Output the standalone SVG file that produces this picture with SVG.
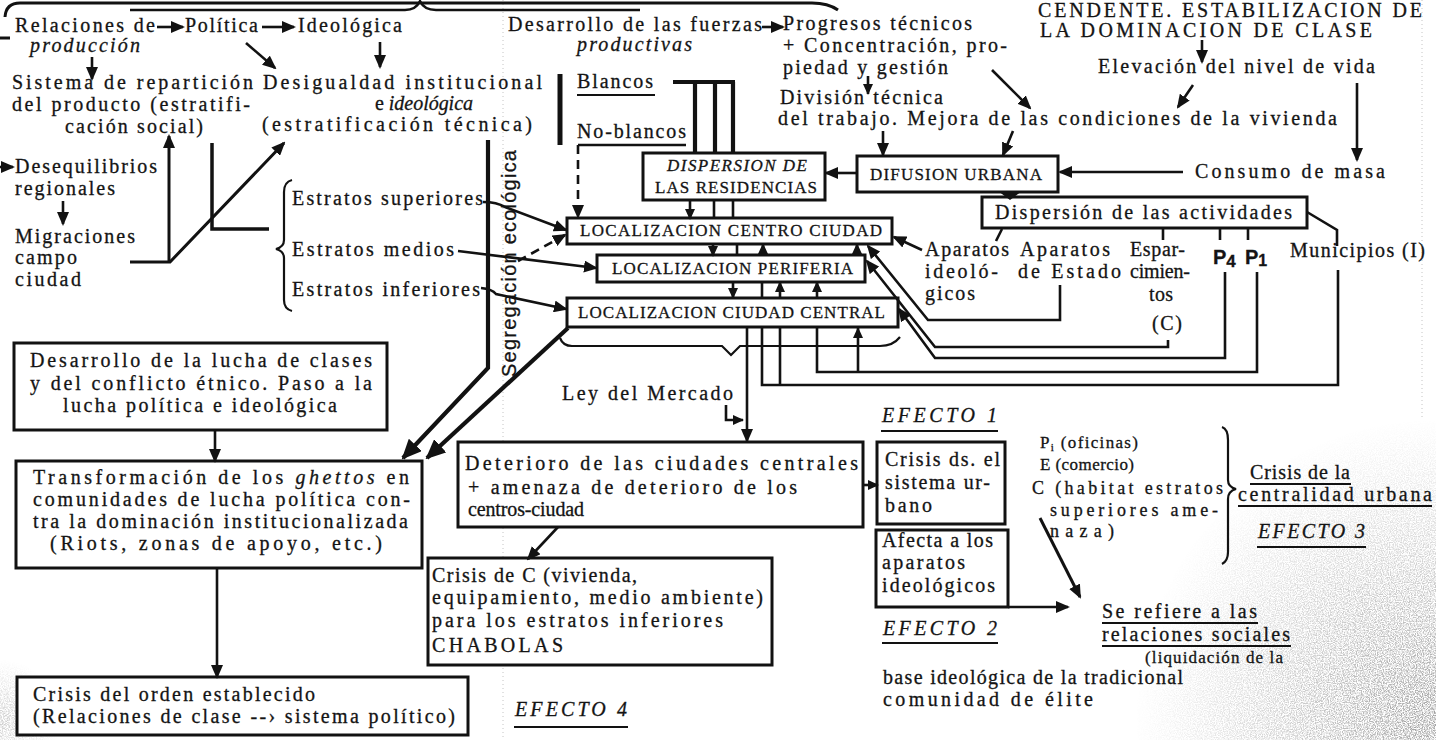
<svg xmlns="http://www.w3.org/2000/svg" width="1436" height="740" viewBox="0 0 1436 740">
<defs>
<style>
 .t{font-family:"Liberation Serif","Times New Roman",serif;font-size:20px;fill:#141414;stroke:#141414;stroke-width:0.3}
 .i{font-style:italic}
 .c{font-size:17px}
 .m{font-size:18px}
 .n{font-size:17px}
 .s{font-family:"Liberation Sans",Arial,sans-serif}
 .ln{fill:none;stroke:#121212;stroke-width:2.6}
 .tk{stroke-width:4.2}
 .bx{fill:#fff;stroke:#121212;stroke-width:3}
 .ul{stroke:#121212;stroke-width:2}
 .a{marker-end:url(#ah)}
 .aL{marker-end:url(#ahL)}
 .aS{marker-end:url(#ahS)}
 .dsh{stroke-dasharray:9 6}
 .fold{stroke:#c4c4c4;stroke-width:1;stroke-dasharray:1 3}
</style>
<marker id="ah" viewBox="0 0 14 12" markerWidth="14" markerHeight="12" refX="12" refY="6" orient="auto" markerUnits="userSpaceOnUse"><path d="M0,0 L14,6 L0,12 z" fill="#121212"/></marker>
<marker id="ahL" viewBox="0 0 20 18" markerWidth="20" markerHeight="18" refX="18" refY="9" orient="auto" markerUnits="userSpaceOnUse"><path d="M0,0 L20,9 L0,18 z" fill="#121212"/></marker>
<marker id="ahS" viewBox="0 0 11 10" markerWidth="11" markerHeight="10" refX="10" refY="5" orient="auto" markerUnits="userSpaceOnUse"><path d="M0,0 L11,5 L0,10 z" fill="#121212"/></marker>
<radialGradient id="hz" cx="1436" cy="720" r="300" gradientUnits="userSpaceOnUse">
 <stop offset="0" stop-color="#666" stop-opacity="0.9"/>
 <stop offset="0.5" stop-color="#888" stop-opacity="0.45"/>
 <stop offset="1" stop-color="#aaa" stop-opacity="0"/>
</radialGradient>
<radialGradient id="hz2" cx="0" cy="720" r="60" gradientUnits="userSpaceOnUse">
 <stop offset="0" stop-color="#777" stop-opacity="0.5"/>
 <stop offset="1" stop-color="#aaa" stop-opacity="0"/>
</radialGradient>
<filter id="grain">
 <feTurbulence type="fractalNoise" baseFrequency="0.85" numOctaves="2" seed="7" result="n"/>
 <feColorMatrix in="n" type="matrix" values="0 0 0 0 0.3  0 0 0 0 0.3  0 0 0 0 0.3  0 0 0 3 -1.1" result="d"/>
 <feComposite in="d" in2="SourceGraphic" operator="in"/>
</filter>
</defs>

<rect width="1436" height="740" fill="#fff"/>

<!-- paper texture: fold lines and worn corners -->
<g id="paper">
 <line class="fold" x1="503" y1="0" x2="503" y2="740"/>
 <line class="fold" x1="1422" y1="0" x2="1422" y2="420"/>
 <rect x="1120" y="420" width="316" height="320" fill="url(#hz)" filter="url(#grain)"/>
 <rect x="0" y="660" width="60" height="80" fill="url(#hz2)" filter="url(#grain)"/>
</g>

<!-- braces -->
<g id="braces" class="ln" stroke-width="2.6">
 <path d="M5,17 Q6,3 20,3 H812 Q828,3 838,10" stroke-width="3"/>
 <path d="M130,10 H405 Q416,10 420,1 Q424,10 436,10 H640" stroke-width="2.4"/>
 <path d="M0,38 H10" stroke-width="3"/>
 <path d="M292,180 Q284,182 284,192 V240 Q284,247 276,249 Q284,251 284,258 V300 Q284,309 292,311" stroke-width="2.2"/>
 <path d="M560,338 Q563,346 572,346 H722 L731,355 L740,346 H880 Q893,346 900,337" stroke-width="2.2"/>
 <path d="M1222,427 Q1228,429 1228,440 V480 Q1228,487 1236,489 Q1228,491 1228,499 V552 Q1228,561 1222,564" stroke-width="2.2"/>
</g>

<!-- left column -->
<g id="n-relaciones">
 <text class="t" x="15" y="32" textLength="140" lengthAdjust="spacing">Relaciones de</text>
 <text class="t i" x="30" y="52" textLength="110" lengthAdjust="spacing">producción</text>
</g>
<g id="n-politica"><text class="t" x="185" y="32" textLength="73" lengthAdjust="spacing">Política</text></g>
<g id="n-ideologica"><text class="t" x="298" y="32" textLength="104" lengthAdjust="spacing">Ideológica</text></g>
<g id="n-sistema">
 <text class="t" x="12" y="89" textLength="241" lengthAdjust="spacing">Sistema de repartición</text>
 <text class="t" x="12" y="111" textLength="238" lengthAdjust="spacing">del producto (estratifi-</text>
 <text class="t" x="65" y="133" textLength="138" lengthAdjust="spacing">cación social)</text>
</g>
<g id="n-desigualdad">
 <text class="t" x="263" y="89" textLength="279" lengthAdjust="spacing">Desigualdad institucional</text>
 <text class="t" x="375" y="110" textLength="98" lengthAdjust="spacing">e <tspan class="i">ideológica</tspan></text>
 <text class="t" x="262" y="131" textLength="270" lengthAdjust="spacing">(estratificación técnica)</text>
</g>
<g id="n-desequilibrios">
 <text class="t" x="15" y="173" textLength="142" lengthAdjust="spacing">Desequilibrios</text>
 <text class="t" x="15" y="195" textLength="100" lengthAdjust="spacing">regionales</text>
</g>
<g id="n-migraciones">
 <text class="t" x="15" y="243" textLength="120" lengthAdjust="spacing">Migraciones</text>
 <text class="t" x="15" y="264" textLength="62" lengthAdjust="spacing">campo</text>
 <text class="t" x="15" y="286" textLength="66" lengthAdjust="spacing">ciudad</text>
</g>
<g id="n-estratos">
 <text class="t" x="292" y="205" textLength="191" lengthAdjust="spacing">Estratos superiores</text>
 <text class="t" x="292" y="256" textLength="162" lengthAdjust="spacing">Estratos medios</text>
 <text class="t" x="292" y="296" textLength="188" lengthAdjust="spacing">Estratos inferiores</text>
</g>
<g id="n-segregacion">
 <text class="t s" font-size="18" transform="translate(516,377) rotate(-90)" textLength="227" lengthAdjust="spacing">Segregación ecológica</text>
</g>

<!-- upper middle -->
<g id="n-fuerzas">
 <text class="t" x="508" y="31" textLength="254" lengthAdjust="spacing">Desarrollo de las fuerzas</text>
 <text class="t i" x="577" y="51" textLength="115" lengthAdjust="spacing">productivas</text>
</g>
<g id="n-progresos">
 <text class="t" x="783" y="30" textLength="189" lengthAdjust="spacing">Progresos técnicos</text>
 <text class="t" x="783" y="52" textLength="224" lengthAdjust="spacing">+ Concentración, pro-</text>
 <text class="t" x="783" y="74" textLength="165" lengthAdjust="spacing">piedad y gestión</text>
</g>
<g id="n-division">
 <text class="t" x="780" y="104" textLength="163" lengthAdjust="spacing">División técnica</text>
 <text class="t" x="778" y="125" textLength="559" lengthAdjust="spacing">del trabajo. Mejora de las condiciones de la vivienda</text>
</g>
<g id="n-dominacion">
 <text class="t" font-size="22" x="1038" y="17" textLength="384" lengthAdjust="spacing">CENDENTE. ESTABILIZACION DE</text>
 <text class="t" font-size="22" x="1040" y="37" textLength="332" lengthAdjust="spacing">LA DOMINACION DE CLASE</text>
</g>
<g id="n-elevacion"><text class="t" x="1098" y="73" textLength="277" lengthAdjust="spacing">Elevación del nivel de vida</text></g>
<g id="n-consumo"><text class="t" x="1195" y="178" textLength="190" lengthAdjust="spacing">Consumo de masa</text></g>
<g id="n-blancos">
 <text class="t" x="577" y="88" textLength="76" lengthAdjust="spacing">Blancos</text>
 <line class="ul" x1="577" y1="95" x2="655" y2="95"/>
</g>
<g id="n-noblancos"><text class="t" x="577" y="138" textLength="109" lengthAdjust="spacing">No-blancos</text></g>

<g id="n-dispersion-residencias">
 <rect class="bx" x="643" y="153" width="182" height="47"/>
 <text class="t c i" x="667" y="171" textLength="140" lengthAdjust="spacing">DISPERSION DE</text>
 <text class="t c" x="655" y="193" textLength="162" lengthAdjust="spacing">LAS RESIDENCIAS</text>
</g>
<g id="n-difusion">
 <rect class="bx" x="857" y="156" width="201" height="36"/>
 <text class="t c" x="870" y="180" textLength="172" lengthAdjust="spacing">DIFUSION URBANA</text>
</g>
<g id="n-dispersion-actividades">
 <rect class="bx" x="982" y="197" width="325" height="31"/>
 <text class="t" x="995" y="219" textLength="297" lengthAdjust="spacing">Dispersión de las actividades</text>
</g>
<g id="n-loc-centro">
 <rect class="bx" x="567" y="218" width="325" height="26"/>
 <text class="t c" x="580" y="236" textLength="302" lengthAdjust="spacing">LOCALIZACION CENTRO CIUDAD</text>
</g>
<g id="n-loc-periferia">
 <rect class="bx" x="597" y="255" width="268" height="27"/>
 <text class="t c" x="612" y="274" textLength="241" lengthAdjust="spacing">LOCALIZACION PERIFERIA</text>
</g>
<g id="n-loc-central">
 <rect class="bx" x="567" y="298" width="331" height="29"/>
 <text class="t c" x="578" y="318" textLength="307" lengthAdjust="spacing">LOCALIZACION CIUDAD CENTRAL</text>
</g>

<!-- labels under the activities box -->
<g id="n-aparatos-ideologicos">
 <text class="t" x="925" y="256" textLength="84" lengthAdjust="spacing">Aparatos</text>
 <text class="t" x="925" y="278" textLength="73" lengthAdjust="spacing">ideoló-</text>
 <text class="t" x="925" y="300" textLength="50" lengthAdjust="spacing">gicos</text>
</g>
<g id="n-aparatos-estado">
 <text class="t" x="1020" y="256" textLength="90" lengthAdjust="spacing">Aparatos</text>
 <text class="t" x="1018" y="278" textLength="103" lengthAdjust="spacing">de Estado</text>
</g>
<g id="n-esparcimientos">
 <text class="t" x="1130" y="256" textLength="55" lengthAdjust="spacing">Espar-</text>
 <text class="t" x="1130" y="278" textLength="60" lengthAdjust="spacing">cimien-</text>
 <text class="t" x="1149" y="301" textLength="24" lengthAdjust="spacing">tos</text>
 <text class="t" x="1152" y="330" textLength="30" lengthAdjust="spacing">(C)</text>
</g>
<g id="n-p4"><text class="t s" font-size="21" font-weight="bold" x="1213" y="264">P<tspan dy="3" font-size="17">4</tspan></text></g>
<g id="n-p1"><text class="t s" font-size="21" font-weight="bold" x="1245" y="264">P<tspan dy="2" font-size="16">1</tspan></text></g>
<g id="n-municipios"><text class="t" x="1290" y="257" textLength="135" lengthAdjust="spacing">Municipios (I)</text></g>

<!-- lower left -->
<g id="n-lucha">
 <rect class="bx" x="14" y="343" width="373" height="87"/>
 <text class="t" x="30" y="367" textLength="342" lengthAdjust="spacing">Desarrollo de la lucha de clases</text>
 <text class="t" x="30" y="390" textLength="342" lengthAdjust="spacing">y del conflicto étnico. Paso a la</text>
 <text class="t" x="63" y="412" textLength="274" lengthAdjust="spacing">lucha política e ideológica</text>
</g>
<g id="n-ghettos">
 <rect class="bx" x="16" y="461" width="406" height="107"/>
 <text class="t" x="33" y="484" textLength="376" lengthAdjust="spacing">Transformación de los <tspan class="i">ghettos</tspan> en</text>
 <text class="t" x="33" y="506" textLength="377" lengthAdjust="spacing">comunidades de lucha política con-</text>
 <text class="t" x="33" y="528" textLength="375" lengthAdjust="spacing">tra la dominación institucionalizada</text>
 <text class="t" x="50" y="550" textLength="332" lengthAdjust="spacing">(Riots, zonas de apoyo, etc.)</text>
</g>
<g id="n-crisis-orden">
 <rect class="bx" x="17" y="677" width="451" height="58"/>
 <text class="t" x="33" y="701" textLength="282" lengthAdjust="spacing">Crisis del orden establecido</text>
 <text class="t" x="33" y="723" textLength="422" lengthAdjust="spacing">(Relaciones de clase --› sistema político)</text>
</g>

<!-- lower middle -->
<g id="n-mercado"><text class="t" x="562" y="400" textLength="171" lengthAdjust="spacing">Ley del Mercado</text></g>
<g id="n-deterioro">
 <rect class="bx" x="458" y="442" width="405" height="85"/>
 <text class="t" x="465" y="470" textLength="393" lengthAdjust="spacing">Deterioro de las ciudades centrales</text>
 <text class="t" x="468" y="494" textLength="329" lengthAdjust="spacing">+ amenaza de deterioro de los</text>
 <text class="t" font-size="19" x="468" y="516" textLength="116" lengthAdjust="spacing">centros-ciudad</text>
</g>
<g id="n-crisis-c">
 <rect class="bx" x="428" y="558" width="344" height="107"/>
 <text class="t" x="432" y="582" textLength="205" lengthAdjust="spacing">Crisis de C (vivienda,</text>
 <text class="t" x="432" y="604" textLength="331" lengthAdjust="spacing">equipamiento, medio ambiente)</text>
 <text class="t" x="432" y="627" textLength="291" lengthAdjust="spacing">para los estratos inferiores</text>
 <text class="t" x="432" y="652" textLength="131" lengthAdjust="spacing">CHABOLAS</text>
</g>
<g id="n-efecto4">
 <text class="t i" x="515" y="716" textLength="112" lengthAdjust="spacing">EFECTO 4</text>
 <line class="ul" x1="514" y1="727" x2="628" y2="727"/>
</g>

<!-- lower right -->
<g id="n-efecto1">
 <text class="t i" x="882" y="422" textLength="115" lengthAdjust="spacing">EFECTO 1</text>
 <line class="ul" x1="881" y1="431" x2="998" y2="431"/>
</g>
<g id="n-crisis-urbano">
 <rect class="bx" x="877" y="442" width="128" height="82"/>
 <text class="t" x="885" y="466" textLength="115" lengthAdjust="spacing">Crisis ds. el</text>
 <text class="t" x="885" y="489" textLength="105" lengthAdjust="spacing">sistema ur-</text>
 <text class="t" x="885" y="512" textLength="47" lengthAdjust="spacing">bano</text>
</g>
<g id="n-afecta">
 <rect class="bx" x="876" y="530" width="132" height="77"/>
 <text class="t" x="882" y="547" textLength="111" lengthAdjust="spacing">Afecta a los</text>
 <text class="t" x="882" y="569" textLength="83" lengthAdjust="spacing">aparatos</text>
 <text class="t" x="882" y="592" textLength="113" lengthAdjust="spacing">ideológicos</text>
</g>
<g id="n-efecto2">
 <text class="t i" x="883" y="635" textLength="114" lengthAdjust="spacing">EFECTO 2</text>
 <line class="ul" x1="882" y1="643" x2="998" y2="643"/>
</g>
<g id="n-centralidad-items">
 <text class="t n" x="1040" y="448" textLength="98" lengthAdjust="spacing">P<tspan font-size="11" dy="3">i</tspan><tspan dy="-3"> (oficinas)</tspan></text>
 <text class="t n" x="1040" y="470" textLength="94" lengthAdjust="spacing">E (comercio)</text>
 <text class="t m" x="1032" y="494" textLength="191" lengthAdjust="spacing">C (habitat estratos</text>
 <text class="t m" x="1050" y="516" textLength="168" lengthAdjust="spacing">superiores ame-</text>
 <text class="t m" x="1050" y="537" textLength="64" lengthAdjust="spacing">naza)</text>
</g>
<g id="n-crisis-centralidad">
 <text class="t" x="1250" y="479" textLength="100" lengthAdjust="spacing">Crisis de la</text>
 <line class="ul" x1="1250" y1="484" x2="1351" y2="484"/>
 <text class="t" x="1238" y="501" textLength="194" lengthAdjust="spacing">centralidad urbana</text>
 <line class="ul" x1="1238" y1="506" x2="1432" y2="506"/>
</g>
<g id="n-efecto3">
 <text class="t i" x="1258" y="538" textLength="107" lengthAdjust="spacing">EFECTO 3</text>
 <line class="ul" x1="1257" y1="547" x2="1366" y2="547"/>
</g>
<g id="n-relaciones-sociales">
 <text class="t" x="1102" y="618" textLength="155" lengthAdjust="spacing">Se refiere a las</text>
 <line class="ul" x1="1102" y1="623" x2="1258" y2="623"/>
 <text class="t" x="1102" y="641" textLength="188" lengthAdjust="spacing">relaciones sociales</text>
 <line class="ul" x1="1102" y1="646" x2="1291" y2="646"/>
 <text class="t n" x="1145" y="663" textLength="138" lengthAdjust="spacing">(liquidación de la</text>
 <text class="t" x="883" y="684" textLength="300" lengthAdjust="spacing">base ideológica de la tradicional</text>
 <text class="t" x="883" y="706" textLength="210" lengthAdjust="spacing">comunidad de élite</text>
</g>

<!-- connectors -->
<g id="connectors" class="ln">
 <!-- production relations chain -->
 <path class="a" d="M157,27 H183"/>
 <path class="a" d="M262,27 H294"/>
 <path class="a" d="M92,57 V79"/>
 <path class="a" d="M246,43 L275,68"/>
 <path class="a" d="M380,42 V67"/>
 <path class="a" d="M0,167 H13"/>
 <path class="a" d="M63,201 V224"/>
 <path class="a" stroke-width="3" d="M169,262 V136"/>
 <path class="a" stroke-width="3" d="M130,262 H170 L284,143"/>
 <path stroke-width="3.5" d="M212,143 V229 H269"/>

 <!-- strata to locations -->
 <path class="a" d="M483,202 Q497,202 505,207 L566,230"/>
 <path class="a" d="M458,251 L596,268"/>
 <path class="a" d="M481,288 Q492,289 496,294 L566,309"/>
 <path class="a dsh" d="M518,261 L565,235"/>

 <!-- ecological segregation -->
 <path class="aL tk" d="M488,140 V368 L403,458"/>
 <path class="aL tk" d="M568,328 L427,458"/>

 <!-- whites / non-whites -->
 <path stroke-width="5" d="M560,74 V145"/>
 <path class="tk" d="M673,82 H735 M695,82 V153 M715,82 V153 M733,82 V153"/>
 <path class="aS" d="M690,200 V219"/>
 <path d="M714,200 V218 M733,200 V218"/>
 <path d="M686,145 H578"/>
 <path class="a dsh" d="M578,145 V217"/>

 <!-- between location boxes -->
 <path class="aS" d="M713,244 V256"/>
 <path d="M737,244 V255"/>
 <path class="aS" d="M763,255 V244"/>
 <path class="aS" d="M857,255 V244"/>
 <path class="aS" d="M733,282 V298"/>
 <path d="M762,282 V298"/>
 <path class="aS" d="M780,298 V282"/>
 <path class="aS" d="M817,298 V282"/>

 <!-- below central city -->
 <path class="a" d="M747,327 V441"/>
 <path d="M1338,270 V385 H762 V327 M780,385 V327"/>
 <path d="M1257,272 V372 H817 V327"/>
 <path class="aS" d="M858,372 V328"/>

 <!-- activities to locations -->
 <path class="a" d="M1060,285 V320 H928 L868,246"/>
 <path class="a" d="M1168,340 V347 H935 L867,261"/>
 <path class="a" d="M1225,272 V358 H935 L899,309"/>
 <path class="a" d="M922,250 L894,237"/>
 <path d="M1307,212 L1337,230 V246"/>
 <path d="M1002,229 L996,241 M1163,229 V240 M1220,229 V240 M1248,229 V240"/>

 <!-- urban diffusion -->
 <path class="a" d="M857,173 H826"/>
 <path class="a" d="M883,131 V155"/>
 <path class="a" d="M1013,131 L1003,155"/>
 <path class="a" d="M992,70 L1030,108"/>
 <path class="aS" d="M868,76 V94"/>
 <path class="a" d="M762,27 H783"/>
 <path class="a" d="M1202,40 V62"/>
 <path class="a" d="M1193,85 L1178,107"/>
 <path class="a" d="M1357,83 V160"/>
 <path class="a" d="M1183,172 H1060"/>
 <polygon points="998,191 1022,191 1010,200" fill="#121212" stroke="none"/>

 <!-- effects -->
 <path class="aS" d="M726,405 V420 H743"/>
 <path class="aS" d="M863,485 H878"/>
 <path class="a" d="M558,527 L528,559"/>
 <path class="a" d="M215,430 V461"/>
 <path class="a" d="M217,568 V677"/>
 <path class="a" d="M1008,607 H1068"/>
 <path class="a" stroke-width="3" d="M1040,518 L1080,597"/>
</g>
</svg>
